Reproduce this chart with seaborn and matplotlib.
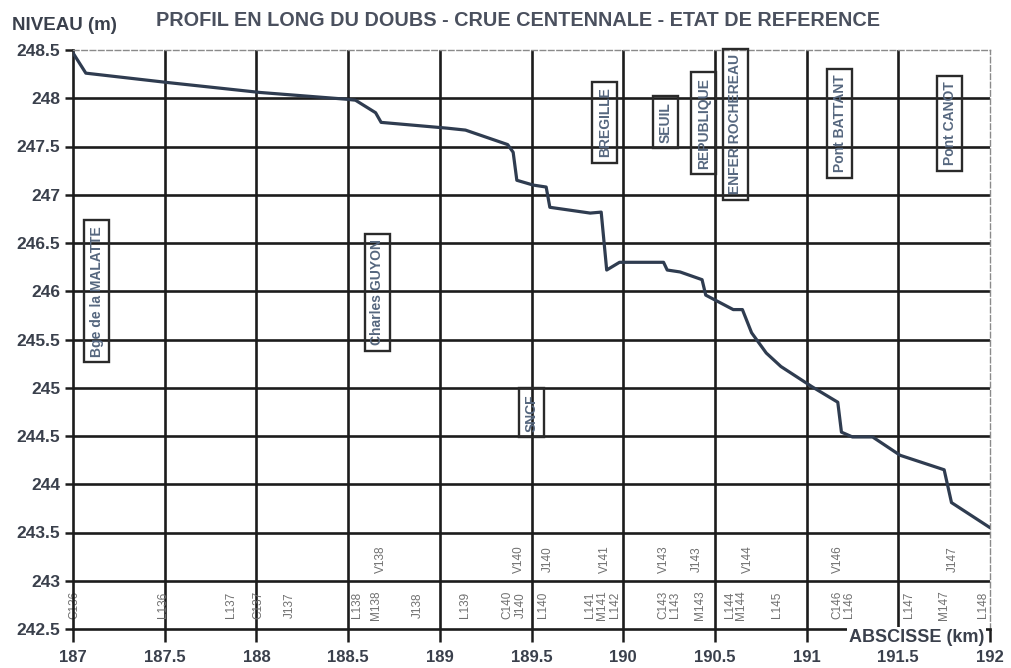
import matplotlib
matplotlib.use("Agg")
import matplotlib.pyplot as plt
import numpy as np
import pandas as pd
import seaborn as sns

# Ligne d'eau : abscisse (km) et niveau (m NGF)
km = [187.00, 187.07, 187.53, 188.02, 188.49, 188.54, 188.65, 188.68, 189.04,
      189.14, 189.37, 189.40, 189.42, 189.51, 189.58, 189.60, 189.82, 189.88,
      189.91, 189.98, 190.22, 190.24, 190.31, 190.43, 190.45, 190.60, 190.65,
      190.70, 190.78, 190.86, 191.03, 191.17, 191.19, 191.25, 191.36, 191.51,
      191.75, 191.79, 192.00]
niveau = [248.47, 248.26, 248.16, 248.06, 247.99, 247.98, 247.85, 247.75, 247.69,
          247.67, 247.52, 247.44, 247.15, 247.10, 247.08, 246.87, 246.81, 246.82,
          246.22, 246.30, 246.30, 246.22, 246.20, 246.12, 245.96, 245.81, 245.81,
          245.57, 245.36, 245.22, 245.01, 244.85, 244.54, 244.49, 244.49, 244.30,
          244.15, 243.81, 243.55]

# Ouvrages (ponts, seuils, barrages)
ouvrages = ["Bge de la MALATTE", "Charles GUYON", "SNCF", "BREGILLE", "SEUIL",
            "REPUBLIQUE", "ENFER ROCHEREAU", "Pont BATTANT", "Pont CANOT"]
ouvrages_km = [187.13, 188.66, 189.50, 189.90, 190.23, 190.44, 190.61, 191.18, 191.78]
ouvrages_niveau = [246.00, 245.99, 244.74, 247.75, 247.75, 247.74, 247.73, 247.74, 247.74]

# Profils en travers
profils_bas = ["C136", "L136", "L137", "C137", "J137", "L138", "M138", "J138", "L139",
               "C140", "J140", "L140", "L141", "M141", "L142", "C143", "L143", "M143",
               "L144", "M144", "L145", "C146", "L146", "L147", "M147", "L148"]
profils_bas_km = [187.01, 187.49, 187.86, 188.01, 188.18, 188.55, 188.65, 188.88, 189.14,
                  189.37, 189.44, 189.56, 189.82, 189.885, 189.955, 190.22, 190.28, 190.42,
                  190.58, 190.64, 190.84, 191.17, 191.23, 191.56, 191.75, 191.96]
profils_haut = ["V138", "V140", "J140", "V141", "V143", "J143", "V144", "V146", "J147"]
profils_haut_km = [188.68, 189.43, 189.59, 189.90, 190.22, 190.40, 190.68, 191.17, 191.80]

x_ticks = [187, 187.5, 188, 188.5, 189, 189.5, 190, 190.5, 191, 191.5, 192]
y_ticks = [242.5, 243, 243.5, 244, 244.5, 245, 245.5, 246, 246.5, 247, 247.5, 248, 248.5]

sns.set_style("white")
plt.rcParams["font.family"] = ["Liberation Sans", "DejaVu Sans"]

TXT = "#3a404c"
fig = plt.figure(figsize=(10.12, 6.68), dpi=100)
ax = fig.add_axes([73 / 1012, 1 - 629 / 668, (990 - 73) / 1012, (629 - 50) / 668])

ax.set_xlim(x_ticks[0], x_ticks[-1])
ax.set_ylim(y_ticks[0], y_ticks[-1])

# quadrillage intérieur
for xv in x_ticks[1:-1]:
    ax.axvline(xv, color="#1c1c1c", lw=1.9, zorder=1)
for yv in y_ticks[1:-1]:
    ax.axhline(yv, color="#1c1c1c", lw=1.9, zorder=1)

df = pd.DataFrame({"km": km, "niveau": niveau})
sns.lineplot(data=df, x="km", y="niveau", sort=False, estimator=None,
             color="#2f3c50", lw=2.3, ax=ax, zorder=3)

for name, xk, yk in zip(ouvrages, ouvrages_km, ouvrages_niveau):
    ax.text(xk, yk, name, rotation=90, ha="center", va="center",
            fontsize=10, fontweight="bold", color="#56677f", zorder=4,
            clip_on=False,
            bbox=dict(boxstyle="square,pad=0.4", fc="none", ec="#2a2a2a", lw=1.7))

for name, xk in zip(profils_bas, profils_bas_km):
    ax.text(xk, 242.75, name, rotation=90, ha="center", va="center",
            fontsize=8.5, color="#707070", zorder=2)
for name, xk in zip(profils_haut, profils_haut_km):
    ax.text(xk, 243.22, name, rotation=90, ha="center", va="center",
            fontsize=8.5, color="#707070", zorder=2)

ax.set_xticks(x_ticks)
ax.set_xticklabels([f"{v:g}" for v in x_ticks])
ax.set_yticks(y_ticks)
ax.set_yticklabels([f"{v:g}" for v in y_ticks])
ax.set_xlabel("")
ax.set_ylabel("")

ax.tick_params(axis="x", direction="out", length=9, width=1.8, color="#1c1c1c",
               pad=6, labelsize=12, labelcolor=TXT, bottom=True)
ax.tick_params(axis="y", direction="out", length=6, width=1.8, color="#1c1c1c",
               pad=3, labelsize=12.5, labelcolor=TXT, left=True)
for lab in ax.get_xticklabels() + ax.get_yticklabels():
    lab.set_fontweight("bold")

for side in ["left", "bottom"]:
    ax.spines[side].set_color("#1c1c1c")
    ax.spines[side].set_linewidth(1.9)
for side in ["top", "right"]:
    ax.spines[side].set_color("#8a8a8a")
    ax.spines[side].set_linewidth(1.0)
    ax.spines[side].set_linestyle((0, (4, 2)))

ax.text(0.994, -0.014, "ABSCISSE (km)", transform=ax.transAxes, ha="right",
        va="center", fontsize=13, fontweight="bold", color=TXT, zorder=5,
        bbox=dict(boxstyle="square,pad=0.1", fc="white", ec="none"))

fig.text(12 / 1012, 1 - 25 / 668, "NIVEAU (m)", ha="left", va="center",
         fontsize=13.5, fontweight="bold", color=TXT)
fig.text(518 / 1012, 1 - 21 / 668,
         "PROFIL EN LONG DU DOUBS - CRUE CENTENNALE - ETAT DE REFERENCE",
         ha="center", va="center", fontsize=14.3, fontweight="bold", color="#4a505e")

fig.savefig("out.png", dpi=100)
